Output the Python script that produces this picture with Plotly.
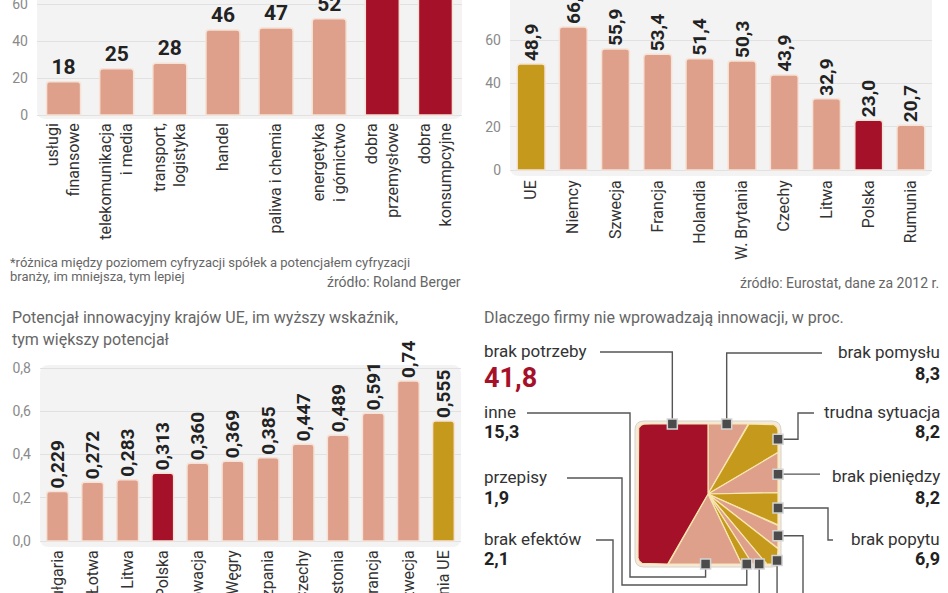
import numpy as np
import plotly.graph_objects as go

W, H = 948, 593

# ---------------- data ----------------
sectors = ["usługi<br>finansowe", "telekomunikacja<br>i media", "transport,<br>logistyka", "handel",
           "paliwa i chemia", "energetyka<br>i górnictwo", "dobra<br>przemysłowe", "dobra<br>konsumpcyjne"]
sector_gap = [18, 25, 28, 46, 47, 52, 71, 74]
sector_key = [False, False, False, False, False, False, True, True]

countries_digital = ["UE", "Niemcy", "Szwecja", "Francja", "Holandia", "W. Brytania", "Czechy", "Litwa", "Polska", "Rumunia"]
digital_share = [48.9, 66.0, 55.9, 53.4, 51.4, 50.3, 43.9, 32.9, 23.0, 20.7]

countries_innov = ["Bułgaria", "Łotwa", "Litwa", "Polska", "Słowacja", "Węgry", "Hiszpania", "Czechy",
                   "Estonia", "Francja", "Szwecja", "średnia UE"]
innov_index = [0.229, 0.272, 0.283, 0.313, 0.360, 0.369, 0.385, 0.447, 0.489, 0.591, 0.74, 0.555]
innov_labels = ["0,229", "0,272", "0,283", "0,313", "0,360", "0,369", "0,385", "0,447", "0,489", "0,591", "0,74", "0,555"]

# clockwise from 12 o'clock; two slices have labels below the visible crop
reasons = ["brak pomysłu", "trudna sytuacja", "brak pieniędzy", "brak popytu", "", "",
           "brak efektów", "przepisy", "inne", "brak potrzeby"]
reason_share = [8.3, 8.2, 8.2, 6.9, 3.9, 3.4, 2.1, 1.9, 15.3, 41.8]

# ---------------- style ----------------
SALMON = "#dfa08b"
RED = "#a6112a"
GOLD = "#c59a1c"
OUTLINE = "#f6e2d6"
FONT = "Roboto, 'Open Sans', sans-serif"
TICK = "#8a8a8a"
GRID = "#e1e1e1"
BG = "#f3f3f3"


def X(x):
    return x / W


def Y(y):
    return 1 - y / H


def fmt(v, d=1):
    return f"{v:.{d}f}".replace(".", ",")


fig = go.Figure()

# panel 1
fig.add_trace(go.Bar(
    x=sectors, y=sector_gap, xaxis="x", yaxis="y", width=0.64,
    marker=dict(color=[RED if k else SALMON for k in sector_key], line=dict(color=OUTLINE, width=1.5),
                cornerradius=3),
    text=[str(v) for v in sector_gap], textposition="outside", textangle=0, constraintext="none",
    textfont=dict(family=FONT, size=21, color="#222", weight="bold"),
    cliponaxis=False, hoverinfo="skip"))

# panel 2
col2 = [GOLD if c == "UE" else RED if c == "Polska" else SALMON for c in countries_digital]
fig.add_trace(go.Bar(
    x=countries_digital, y=digital_share, xaxis="x2", yaxis="y2", width=0.66,
    marker=dict(color=col2, line=dict(color=OUTLINE, width=1.5), cornerradius=3),
    text=[fmt(v) for v in digital_share], textposition="outside", textangle=-90, constraintext="none",
    textfont=dict(family=FONT, size=19, color="#222", weight="bold"),
    cliponaxis=False, hoverinfo="skip"))

# panel 3
col3 = [GOLD if c == "średnia UE" else RED if c == "Polska" else SALMON for c in countries_innov]
fig.add_trace(go.Bar(
    x=countries_innov, y=innov_index, xaxis="x3", yaxis="y3", width=0.62,
    marker=dict(color=col3, line=dict(color=OUTLINE, width=1.5), cornerradius=3),
    text=innov_labels, textposition="outside", textangle=-90, constraintext="none",
    textfont=dict(family=FONT, size=19, color="#222", weight="bold"),
    cliponaxis=False, hoverinfo="skip"))

# ---------------- panel 4: square pie ----------------
cx, cy, half, rad = 708, 494, 70, 7


def seg_line(p0, p1, n=200):
    t = np.linspace(0, 1, n, endpoint=False)
    return list(zip(p0[0] + (p1[0] - p0[0]) * t, p0[1] + (p1[1] - p0[1]) * t))


def seg_arc(c, t0, t1, n=60):
    t = np.radians(np.linspace(t0, t1, n, endpoint=False))
    return list(zip(c[0] + rad * np.cos(t), c[1] + rad * np.sin(t)))


L, R, T, B = cx - half, cx + half, cy - half, cy + half
pts = []
pts += seg_line((cx, T), (R - rad, T))
pts += seg_arc((R - rad, T + rad), -90, 0)
pts += seg_line((R, T + rad), (R, B - rad))
pts += seg_arc((R - rad, B - rad), 0, 90)
pts += seg_line((R - rad, B), (L + rad, B))
pts += seg_arc((L + rad, B - rad), 90, 180)
pts += seg_line((L, B - rad), (L, T + rad))
pts += seg_arc((L + rad, T + rad), 180, 270)
pts += seg_line((L + rad, T), (cx, T))
pts.append((cx, T))
bx = np.array([p[0] for p in pts])
by = np.array([p[1] for p in pts])
ang = np.degrees(np.unwrap(np.arctan2(bx - cx, -(by - cy))))
ang[-1] = 360.0


def bpt(a):
    return float(np.interp(a, ang, bx)), float(np.interp(a, ang, by))


slice_colors = [SALMON, GOLD, SALMON, GOLD, SALMON, GOLD, SALMON, GOLD, SALMON, RED]
marker_angle_override = {1: 52, 9: 333}

total = sum(reason_share)
cum = np.concatenate([[0], np.cumsum(reason_share)]) / total * 360
markers = []
for i, s in enumerate(reason_share):
    a0, a1 = cum[i], cum[i + 1]
    inner = [(x, y) for x, y, a in zip(bx, by, ang) if a0 < a < a1]
    poly = [(cx, cy), bpt(a0)] + inner + [bpt(a1), (cx, cy)]
    fig.add_trace(go.Scatter(
        x=[p[0] for p in poly], y=[p[1] for p in poly], xaxis="x4", yaxis="y4",
        mode="lines", fill="toself", fillcolor=slice_colors[i],
        line=dict(color="#f7e6b0", width=1.2), hoverinfo="skip"))
    markers.append(bpt(marker_angle_override.get(i, (a0 + a1) / 2)))

# leader line routes (None = take the slice marker coordinate)
leaders = [
    [(822, 353), (None, 353), (None, None)],
    [(814, 413), (798, 413), (798, None), (None, None)],
    [(820, None), (None, None)],
    [(833, 540), (828, 540), (828, None), (None, None)],
    [(803, 620), (803, None), (None, None)],
    [(None, 620), (None, None)],
    [(596, 540), (613, 540), (613, 620), (None, 620), (None, None)],
    [(567, 478), (622, 478), (622, 585), (None, 585), (None, None)],
    [(527, 413), (630, 413), (630, 577), (None, 577), (None, None)],
    [(600, 352), (None, 352), (None, None)],
]
lx, ly = [], []
for (mx, my), route in zip(markers, leaders):
    for px_, py_ in route:
        lx.append(mx if px_ is None else px_)
        ly.append(my if py_ is None else py_)
    lx.append(None)
    ly.append(None)
fig.add_trace(go.Scatter(x=lx, y=ly, xaxis="x4", yaxis="y4", mode="lines",
                         line=dict(color="#555555", width=1.4), hoverinfo="skip"))
fig.add_trace(go.Scatter(x=[m[0] for m in markers], y=[m[1] for m in markers], xaxis="x4", yaxis="y4",
                         mode="markers", hoverinfo="skip",
                         marker=dict(symbol="square", size=10, color="#4b4b4b",
                                     line=dict(color="#d4d4d4", width=1.5))))

# reason labels
label_pos = {
    "brak potrzeby": ("left", 351, 378, 27, RED),
    "inne": ("left", 412, 431, 18, "#222"),
    "przepisy": ("left", 477, 497, 18, "#222"),
    "brak efektów": ("left", 539, 558, 18, "#222"),
    "brak pomysłu": ("right", 352, 373, 18, "#222"),
    "trudna sytuacja": ("right", 412, 431, 18, "#222"),
    "brak pieniędzy": ("right", 476, 497, 18, "#222"),
    "brak popytu": ("right", 539, 558, 18, "#222"),
}

ann = []


def txt(x, y, s, size, color, anchor="left", weight="normal"):
    ann.append(dict(xref="x4", yref="y4", x=x, y=y, text=s, showarrow=False, xanchor=anchor,
                    yanchor="middle", borderpad=0,
                    font=dict(family=FONT, size=size, color=color, weight=weight)))


for name, share in zip(reasons, reason_share):
    if name in label_pos:
        side, yl, yv, vs, vc = label_pos[name]
        xx = 483 if side == "left" else 941
        txt(xx, yl, name, 17, "#333", side)
        txt(xx, yv, fmt(share), vs, vc, side, "bold")

# other texts
txt(9, 262, "*różnica między poziomem cyfryzacji spółek a potencjałem cyfryzacji", 13, "#666")
txt(9, 276, "branży, im mniejsza, tym lepiej", 13, "#666")
txt(462, 282, "źródło: Roland Berger", 14, "#666", "right")
txt(940, 283, "źródło: Eurostat, dane za 2012 r.", 14, "#666", "right")
txt(11, 317, "Potencjał innowacyjny krajów UE, im wyższy wskaźnik,", 16, "#666")
txt(11, 339, "tym większy potencjał", 16, "#666")
txt(483, 317, "Dlaczego firmy nie wprowadzają innowacji, w proc.", 16, "#666")


def rrect(x0, y0, x1, y1, r):
    return (f"M {X(x0 + r)},{Y(y0)} L {X(x1 - r)},{Y(y0)} Q {X(x1)},{Y(y0)} {X(x1)},{Y(y0 + r)} "
            f"L {X(x1)},{Y(y1 - r)} Q {X(x1)},{Y(y1)} {X(x1 - r)},{Y(y1)} "
            f"L {X(x0 + r)},{Y(y1)} Q {X(x0)},{Y(y1)} {X(x0)},{Y(y1 - r)} "
            f"L {X(x0)},{Y(y0 + r)} Q {X(x0)},{Y(y0)} {X(x0 + r)},{Y(y0)} Z")


shapes = [
    dict(type="path", xref="paper", yref="paper", layer="below", path=rrect(37, -20, 462, 119, 9),
         fillcolor=BG, line=dict(width=0)),
    dict(type="path", xref="paper", yref="paper", layer="below", path=rrect(510, -20, 932, 176, 9),
         fillcolor=BG, line=dict(width=0)),
    dict(type="path", xref="paper", yref="paper", layer="below", path=rrect(40, 365, 461, 547, 9),
         fillcolor=BG, line=dict(width=0)),
    dict(type="path", xref="paper", yref="paper", layer="below", path=rrect(L - 3, T - 3, R + 3, B + 3, 9),
         fillcolor="#f5ead8", line=dict(color="#d8d2ca", width=1)),
]

ax_common = dict(showgrid=False, zeroline=False, showline=False, ticks="", automargin=False,
                 tickfont=dict(family=FONT, size=16, color="#333"), tickangle=-90, fixedrange=True)
y_common = dict(showgrid=True, gridcolor=GRID, gridwidth=1, zeroline=False, showline=False, ticks="",
                automargin=False, tickfont=dict(family=FONT, size=14, color=TICK), ticklabelstandoff=8,
                ticklabeloverflow="allow", fixedrange=True)

fig.update_layout(
    width=W, height=H, margin=dict(l=0, r=0, t=0, b=0),
    paper_bgcolor="white", plot_bgcolor="rgba(0,0,0,0)", showlegend=False,
    xaxis=dict(domain=[X(37), X(462)], anchor="y", **ax_common),
    yaxis=dict(domain=[Y(119), 1], anchor="x", range=[-2.16, 62.16], tickvals=[0, 20, 40, 60], **y_common),
    xaxis2=dict(domain=[X(510), X(932)], anchor="y2", **ax_common),
    yaxis2=dict(domain=[Y(176), 1], anchor="x2", range=[-2.77, 78.46], tickvals=[0, 20, 40, 60], **y_common),
    xaxis3=dict(domain=[X(40), X(461)], anchor="y3", **ax_common),
    yaxis3=dict(domain=[Y(546), Y(365)], anchor="x3", range=[-0.0231, 0.8139],
                tickvals=[0, 0.2, 0.4, 0.6, 0.8], ticktext=["0,0", "0,2", "0,4", "0,6", "0,8"], **y_common),
    xaxis4=dict(domain=[0, 1], anchor="y4", range=[0, W], visible=False, fixedrange=True),
    yaxis4=dict(domain=[0, 1], anchor="x4", range=[H, 0], visible=False, fixedrange=True),
    shapes=shapes, annotations=ann,
)

fig.write_html("out.html", config={"displayModeBar": False},
               post_script="document.body.style.margin='0';document.body.style.overflow='hidden';")
